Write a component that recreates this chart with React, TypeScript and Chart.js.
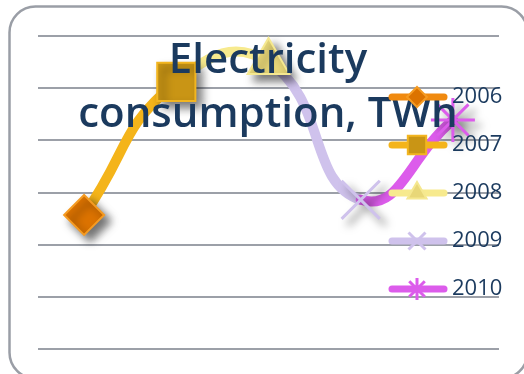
import React, { useEffect, useRef } from 'react';
import { Chart, registerables } from 'chart.js';
import { drawPoint } from 'chart.js/helpers';

Chart.register(...registerables);

// Electricity consumption per year (gridline units)
const years = ['2006', '2007', '2008', '2009', '2010'];
const consumption = [2.57, 5.12, 5.5, 2.86, 4.39];
const yMin = 0;
const yMax = 6;
const titleLines = ['Electricity', 'consumption, TWh'];

// one colour / marker per year
const lineColors = ['#F08A10', '#F4B41A', '#F7EA8E', '#CFC2EC', '#DC5CEB'];
const markerFills = ['#DC7300', '#C99515', '#E8D778', '#CFC2EC', '#DC5CEB'];
const markerBorders = ['#F59B22', '#F2B520', '#F5E890', '#CFC2EC', '#DC5CEB'];
const markerStyles = ['rectRot', 'rect', 'triangle', 'crossRot', 'star'];
const markerSizes = [20, 27, 24, 27, 22];
const legendSizes = [10, 13, 11, 12, 11];

const navy = '#1B3A5E';

const frame = {
  id: 'frame',
  beforeDraw(chart: any) {
    const ctx = chart.ctx;
    ctx.save();
    ctx.fillStyle = '#ffffff';
    ctx.fillRect(0, 0, chart.width, chart.height);
    ctx.strokeStyle = '#9A9EA6';
    ctx.lineWidth = 2.5;
    ctx.beginPath();
    ctx.roundRect(9.5, 6.5, 518, 372, 26);
    ctx.stroke();
    ctx.restore();
  },
};

const markerShadow = {
  id: 'markerShadow',
  beforeDatasetDraw(chart: any, args: any) {
    if (args.index !== 0) return;
    const ctx = chart.ctx;
    ctx.save();
    ctx.shadowColor = 'rgba(0,0,0,0.55)';
    ctx.shadowBlur = 9;
    ctx.shadowOffsetX = 6;
    ctx.shadowOffsetY = 6;
  },
  afterDatasetDraw(chart: any, args: any) {
    if (args.index !== 0) return;
    chart.ctx.restore();
  },
};

const overlay = {
  id: 'overlay',
  afterDraw(chart: any) {
    const ctx = chart.ctx;
    ctx.save();
    // title
    ctx.fillStyle = navy;
    ctx.font = '600 42px "Open Sans"';
    ctx.textAlign = 'center';
    ctx.textBaseline = 'alphabetic';
    ctx.fillText(titleLines[0], 268, 73);
    ctx.fillText(titleLines[1], 268, 127);

    // legend
    years.forEach((yr, i) => {
      const y = 97 + i * 48;
      ctx.strokeStyle = lineColors[i];
      ctx.lineWidth = 7;
      ctx.lineCap = 'round';
      ctx.beginPath();
      ctx.moveTo(392, y);
      ctx.lineTo(444, y);
      ctx.stroke();
      ctx.lineCap = 'butt';
      ctx.fillStyle = markerFills[i];
      ctx.strokeStyle = markerBorders[i];
      const bw = i >= 3 ? 3 : 2;
      ctx.lineWidth = bw;
      drawPoint(ctx, {
        pointStyle: markerStyles[i],
        radius: legendSizes[i],
        rotation: 0,
        borderWidth: bw,
      } as any, 417, y);
      ctx.fillStyle = navy;
      ctx.font = '22px "Open Sans"';
      ctx.textAlign = 'left';
      ctx.textBaseline = 'middle';
      ctx.fillText(yr, 452, y);
    });
    ctx.restore();
  },
};

export default function App() {
  const ref = useRef<HTMLCanvasElement>(null);

  useEffect(() => {
    const chart = new Chart(ref.current as HTMLCanvasElement, {
      type: 'line',
      data: {
        labels: years,
        datasets: [
          {
            label: 'markers',
            data: consumption,
            showLine: false,
            order: 0,
            clip: false as any,
            pointStyle: markerStyles as any,
            pointRadius: markerSizes,
            pointBackgroundColor: markerFills,
            pointBorderColor: markerBorders,
            pointBorderWidth: [2, 2, 2, 3, 3],
          },
          {
            label: 'line',
            data: consumption,
            order: 1,
            pointRadius: 0,
            borderWidth: 10,
            tension: 0.5,
            borderCapStyle: 'round',
            borderJoinStyle: 'round',
            borderColor: lineColors[1],
            segment: {
              borderColor: (c: any) => lineColors[c.p1DataIndex],
            },
          },
        ],
      },
      options: {
        responsive: false,
        animation: false,
        layout: { padding: { left: 38, right: 22, top: 36, bottom: 25 } },
        plugins: {
          legend: { display: false },
          title: { display: false },
          tooltip: { enabled: false },
        },
        scales: {
          x: {
            type: 'category',
            offset: true,
            grid: { display: false },
            border: { display: false },
            ticks: { display: false },
            afterFit: (s: any) => { s.height = 0; },
          },
          y: {
            min: yMin,
            max: yMax,
            ticks: { display: false, stepSize: 1 },
            border: { display: false },
            grid: { color: '#9CA0A8', lineWidth: 2, drawTicks: false },
            afterFit: (s: any) => { s.width = 0; },
          },
        },
      },
      plugins: [frame, markerShadow, overlay],
    });
    return () => chart.destroy();
  }, []);

  return (
    <div style={{ position: 'fixed', left: 0, top: 0, width: 524, height: 374, background: '#fff' }}>
      <canvas ref={ref} width={524} height={374} style={{ display: 'block', width: 524, height: 374 }} />
    </div>
  );
}
